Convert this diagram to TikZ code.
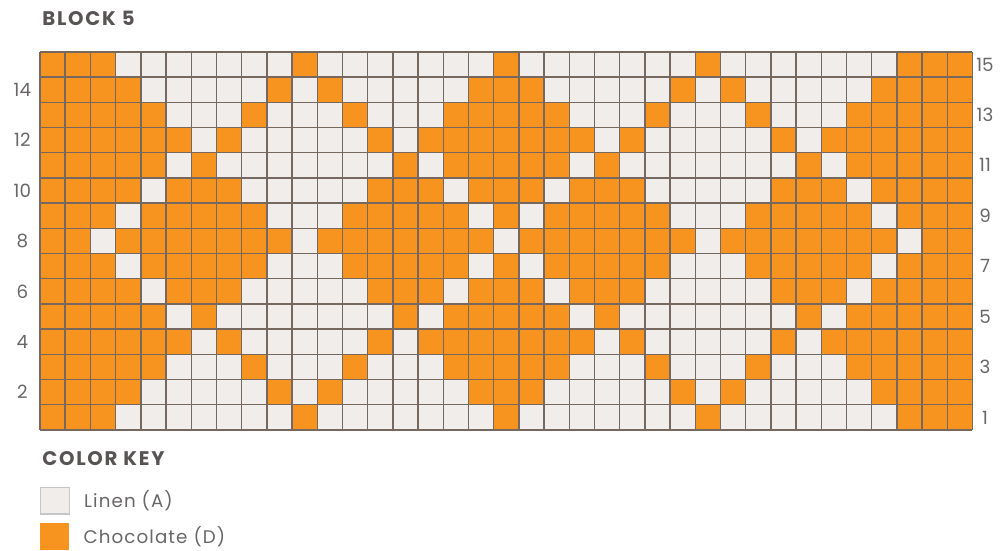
\documentclass[tikz,border=0pt]{standalone}
\usepackage{fontspec}
\setmainfont{Poppins}
\usetikzlibrary{positioning}
\definecolor{choc}{RGB}{247,148,32}
\definecolor{linen}{RGB}{240,237,234}
\definecolor{gridcol}{RGB}{118,104,94}
\definecolor{headcol}{RGB}{88,84,84}
\definecolor{numcol}{RGB}{105,102,102}

\begin{document}
\begin{tikzpicture}[
    gridline/.style={draw=gridcol, line width=1pt},
    num/.style={font=\fontsize{13}{15}\selectfont, text=numcol, inner sep=0pt},
    head/.style={font=\fontsize{14}{16}\selectfont\bfseries\addfontfeatures{LetterSpace=9}, text=headcol, anchor=west, inner sep=0pt},
    keybox/.style={minimum width=0.72cm, minimum height=0.66cm, inner sep=0pt, anchor=north west},
    keytext/.style={font=\fontsize{13}{15}\selectfont\addfontfeatures{LetterSpace=6}, text=numcol, anchor=west, inner sep=0pt}
]
\useasboundingbox (0,0) rectangle (25,13.775);

% Chart title
\node[head] (title) at (1.05,13.325) {BLOCK 5};

% Chart: 37 stitches x 15 rows, rows 9-15 mirror rows 7-1
\begin{scope}[shift={(1,3.025)}, x=0.63cm, y=0.63cm]
\fill[linen] (0,0) rectangle (37,15);
\foreach \r/\bits in {
    1/{1,1,1,0,0,0,0,0,0,0,1,0,0,0,0,0,0,0,1,0,0,0,0,0,0,0,1,0,0,0,0,0,0,0,1,1,1},
    2/{1,1,1,1,0,0,0,0,0,1,0,1,0,0,0,0,0,1,1,1,0,0,0,0,0,1,0,1,0,0,0,0,0,1,1,1,1},
    3/{1,1,1,1,1,0,0,0,1,0,0,0,1,0,0,0,1,1,1,1,1,0,0,0,1,0,0,0,1,0,0,0,1,1,1,1,1},
    4/{1,1,1,1,1,1,0,1,0,0,0,0,0,1,0,1,1,1,1,1,1,1,0,1,0,0,0,0,0,1,0,1,1,1,1,1,1},
    5/{1,1,1,1,1,0,1,0,0,0,0,0,0,0,1,0,1,1,1,1,1,0,1,0,0,0,0,0,0,0,1,0,1,1,1,1,1},
    6/{1,1,1,1,0,1,1,1,0,0,0,0,0,1,1,1,0,1,1,1,0,1,1,1,0,0,0,0,0,1,1,1,0,1,1,1,1},
    7/{1,1,1,0,1,1,1,1,1,0,0,0,1,1,1,1,1,0,1,0,1,1,1,1,1,0,0,0,1,1,1,1,1,0,1,1,1},
    8/{1,1,0,1,1,1,1,1,1,1,0,1,1,1,1,1,1,1,0,1,1,1,1,1,1,1,0,1,1,1,1,1,1,1,0,1,1}} {
  \pgfmathtruncatemacro\rr{16-\r}
  \foreach \b [count=\c] in \bits {
    \ifnum\b=1
      \fill[choc] (\c-1,\r-1) rectangle ++(1,1);
      \fill[choc] (\c-1,\rr-1) rectangle ++(1,1);
    \fi
  }
}
\foreach \c in {0,...,37} \draw[gridline] (\c,0) -- (\c,15);
\foreach \r in {0,...,15} \draw[gridline] (0,\r) -- (37,\r);

% row numbers
\foreach \n in {2,4,...,14} \node[num] (left\n) at (-0.7,\n-0.5) {\n};
\foreach \n in {1,3,...,15} \node[num] (right\n) at (37.5,\n-0.5) {\n};
\end{scope}

% Color key
\node[head] (keyhead) at (1.05,2.3) {COLOR KEY};
\node[keybox, fill=linen, draw=gray!45, line width=0.8pt] (keyA) at (1.0,1.6) {};
\node[keybox, fill=choc] (keyD) at (1.0,0.7) {};
\node[keytext, right=0.35cm of keyA] (textA) {Linen (A)};
\node[keytext, right=0.35cm of keyD] (textD) {Chocolate (D)};

\end{tikzpicture}
\end{document}
